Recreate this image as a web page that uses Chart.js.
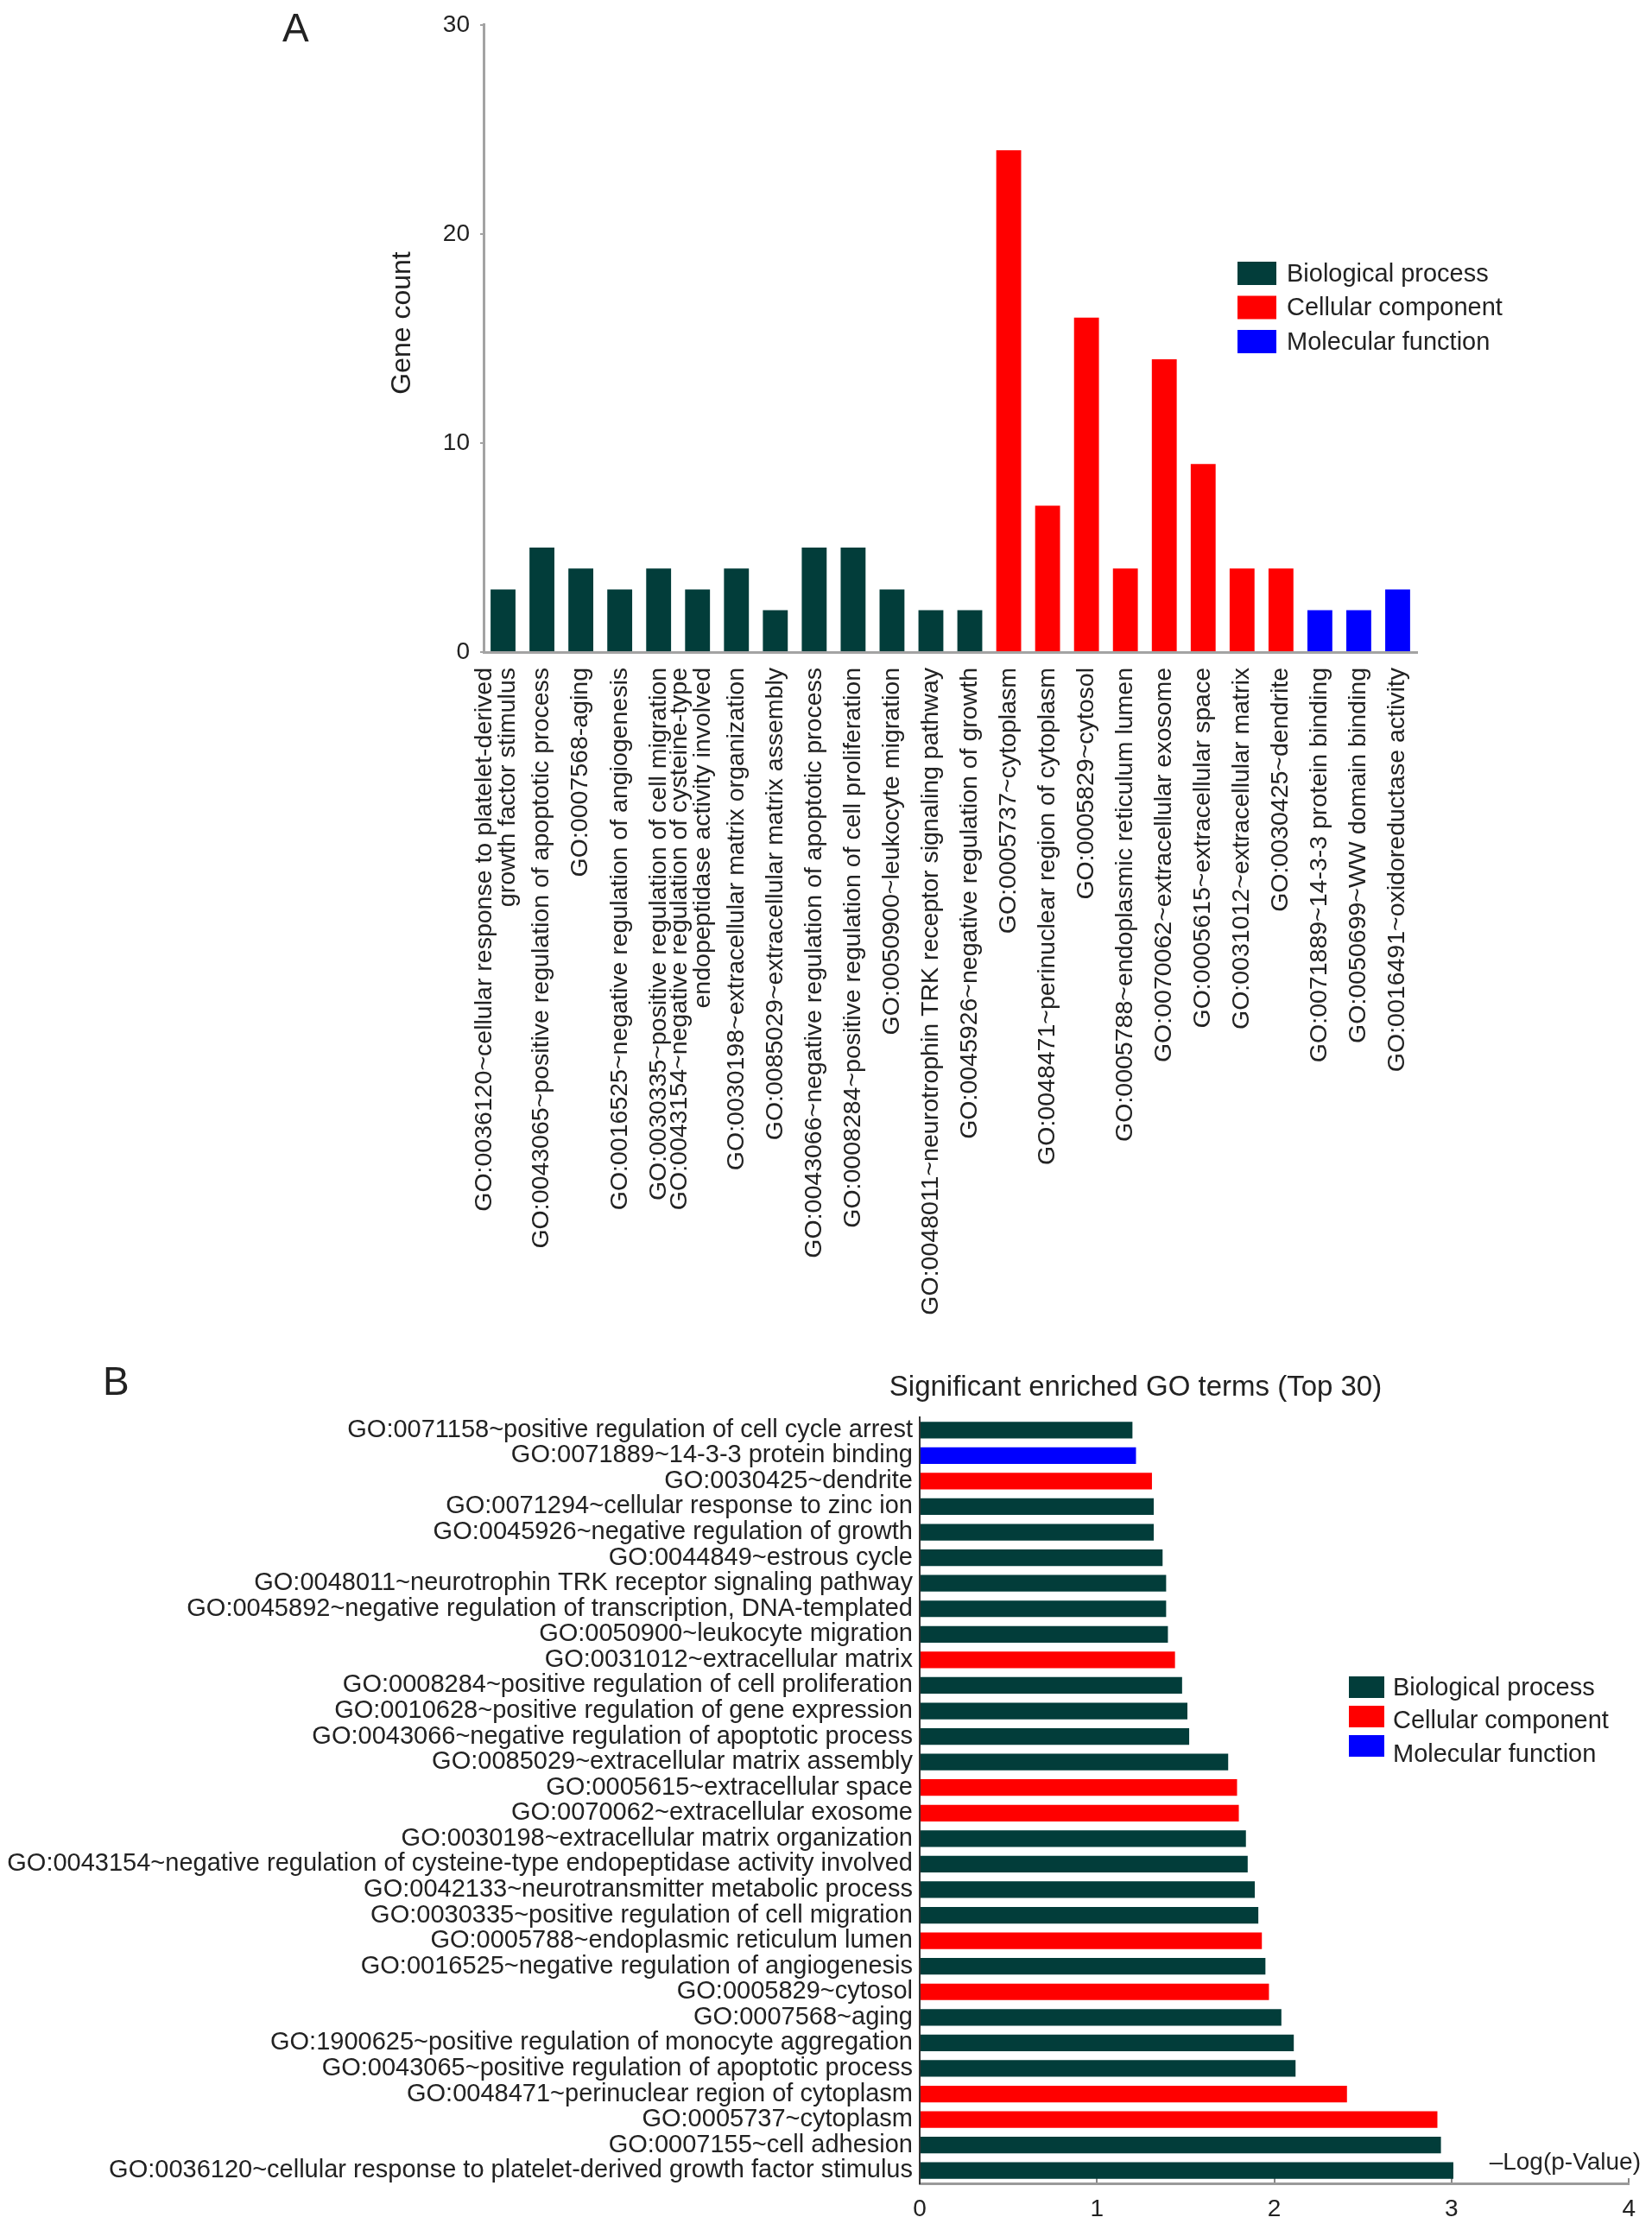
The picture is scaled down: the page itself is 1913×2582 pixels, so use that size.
<!DOCTYPE html>
<html>
<head>
<meta charset="utf-8">
<script src="https://cdn.jsdelivr.net/npm/chart.js@4.4.1/dist/chart.umd.min.js"></script>
<style>
  html, body { margin: 0; padding: 0; background: #fff; }
  canvas { display: block; }
</style>
</head>
<body>
<canvas id="chartA" width="1913" height="1545"></canvas>
<canvas id="chartB" width="1913" height="1037"></canvas>
<script>
// GO categories
const groupNames = ['Biological process', 'Cellular component', 'Molecular function'];
const groupColors = ['#023d3a', '#ff0000', '#0000ff'];

// Panel A: gene count per GO term
const termsA = [
  ['GO:0036120~cellular response to platelet-derived', 'growth factor stimulus'],
  ['GO:0043065~positive regulation of apoptotic process'],
  ['GO:0007568-aging'],
  ['GO:0016525~negative regulation of angiogenesis'],
  ['GO:0030335~positive regulation of cell migration'],
  ['GO:0043154~negative regulation of cysteine-type', 'endopeptidase activity involved'],
  ['GO:0030198~extracellular matrix organization'],
  ['GO:0085029~extracellular matrix assembly'],
  ['GO:0043066~negative regulation of apoptotic process'],
  ['GO:0008284~positive regulation of cell proliferation'],
  ['GO:0050900~leukocyte migration'],
  ['GO:0048011~neurotrophin TRK receptor signaling pathway'],
  ['GO:0045926~negative regulation of growth'],
  ['GO:0005737~cytoplasm'],
  ['GO:0048471~perinuclear region of cytoplasm'],
  ['GO:0005829~cytosol'],
  ['GO:0005788~endoplasmic reticulum lumen'],
  ['GO:0070062~extracellular exosome'],
  ['GO:0005615~extracellular space'],
  ['GO:0031012~extracellular matrix'],
  ['GO:0030425~dendrite'],
  ['GO:0071889~14-3-3 protein binding'],
  ['GO:0050699~WW domain binding'],
  ['GO:0016491~oxidoreductase activity']
];
const countA = [3, 5, 4, 3, 4, 3, 4, 2, 5, 5, 3, 2, 2, 24, 7, 16, 4, 14, 9, 4, 4, 2, 2, 3];
const groupA = [0, 0, 0, 0, 0, 0, 0, 0, 0, 0, 0, 0, 0, 1, 1, 1, 1, 1, 1, 1, 1, 2, 2, 2];
const ticksA = [0, 10, 20, 30];

// Panel B: top 30 enriched terms, -log(p)
const termsB = [
  'GO:0071158~positive regulation of cell cycle arrest',
  'GO:0071889~14-3-3 protein binding',
  'GO:0030425~dendrite',
  'GO:0071294~cellular response to zinc ion',
  'GO:0045926~negative regulation of growth',
  'GO:0044849~estrous cycle',
  'GO:0048011~neurotrophin TRK receptor signaling pathway',
  'GO:0045892~negative regulation of transcription, DNA-templated',
  'GO:0050900~leukocyte migration',
  'GO:0031012~extracellular matrix',
  'GO:0008284~positive regulation of cell proliferation',
  'GO:0010628~positive regulation of gene expression',
  'GO:0043066~negative regulation of apoptotic process',
  'GO:0085029~extracellular matrix assembly',
  'GO:0005615~extracellular space',
  'GO:0070062~extracellular exosome',
  'GO:0030198~extracellular matrix organization',
  'GO:0043154~negative regulation of cysteine-type endopeptidase activity involved',
  'GO:0042133~neurotransmitter metabolic process',
  'GO:0030335~positive regulation of cell migration',
  'GO:0005788~endoplasmic reticulum lumen',
  'GO:0016525~negative regulation of angiogenesis',
  'GO:0005829~cytosol',
  'GO:0007568~aging',
  'GO:1900625~positive regulation of monocyte aggregation',
  'GO:0043065~positive regulation of apoptotic process',
  'GO:0048471~perinuclear region of cytoplasm',
  'GO:0005737~cytoplasm',
  'GO:0007155~cell adhesion',
  'GO:0036120~cellular response to platelet-derived growth factor stimulus'
];
const logpB = [1.20, 1.22, 1.31, 1.32, 1.32, 1.37, 1.39, 1.39, 1.40, 1.44,
               1.48, 1.51, 1.52, 1.74, 1.79, 1.80, 1.84, 1.85, 1.89, 1.91,
               1.93, 1.95, 1.97, 2.04, 2.11, 2.12, 2.41, 2.92, 2.94, 3.01];
const groupB = [0, 2, 1, 0, 0, 0, 0, 0, 0, 1, 0, 0, 0, 0, 1, 1, 0, 0, 0, 0,
                1, 0, 1, 0, 0, 0, 1, 1, 0, 0];
const ticksB = [0, 1, 2, 3, 4];

const FONT = '"Liberation Sans", Arial, Helvetica, sans-serif';
Chart.defaults.font.family = FONT;
Chart.defaults.color = '#222';

const legendItems = groupNames.map((name, i) => ({ label: name, color: groupColors[i] }));

// draws panel letters, free text and the boxed legend
function decor(cfg) {
  return {
    id: 'decor',
    afterDraw(chart) {
      const ctx = chart.ctx;
      ctx.save();
      cfg.texts.forEach(t => {
        ctx.save();
        ctx.font = t.size + 'px ' + FONT;
        ctx.fillStyle = '#222';
        ctx.textAlign = t.align || 'left';
        ctx.textBaseline = t.baseline || 'alphabetic';
        ctx.translate(t.x, t.y);
        if (t.rotate) ctx.rotate(t.rotate);
        ctx.fillText(t.text, 0, 0);
        ctx.restore();
      });
      const lg = cfg.legend;
      ctx.font = lg.size + 'px ' + FONT;
      ctx.textAlign = 'left';
      ctx.textBaseline = 'middle';
      lg.items.forEach((it, i) => {
        const top = lg.y + i * lg.gap;
        ctx.fillStyle = it.color;
        ctx.fillRect(lg.x, top, lg.w, lg.h);
        ctx.fillStyle = '#222';
        ctx.fillText(it.label, lg.x + lg.w + lg.space, lg.y + lg.h / 2 + 1 + i * lg.textGap);
      });
      ctx.restore();
    }
  };
}

// two-line term labels on the x axis: second line sits on the bar, first line left of it
const splitLabels = {
  id: 'splitLabels',
  afterDraw(chart) {
    const sx = chart.scales.x;
    const ctx = chart.ctx;
    ctx.save();
    ctx.font = '28.5px ' + FONT;
    ctx.fillStyle = '#222';
    ctx.textAlign = 'right';
    ctx.textBaseline = 'middle';
    termsA.forEach((lines, i) => {
      if (lines.length < 2) return;
      const px = sx.getPixelForTick(i);
      lines.forEach((line, k) => {
        ctx.save();
        ctx.translate(px - 21 + k * 27, sx.top + 18);
        ctx.rotate(-Math.PI / 2);
        ctx.fillText(line, 0, 0);
        ctx.restore();
      });
    });
    ctx.restore();
  }
};

new Chart(document.getElementById('chartA'), {
  type: 'bar',
  data: {
    labels: termsA.map(l => l.join(' ')),
    datasets: [{
      data: countA,
      backgroundColor: groupA.map(g => groupColors[g]),
      categoryPercentage: 1,
      barPercentage: 0.64
    }]
  },
  options: {
    responsive: false,
    animation: false,
    devicePixelRatio: 1,
    layout: { padding: { left: 443, right: 272, top: 25, bottom: 0 } },
    plugins: { legend: { display: false }, tooltip: { enabled: false } },
    scales: {
      x: {
        grid: { display: false, drawTicks: false },
        border: { display: true, color: '#a3a3a3', width: 3 },
        ticks: {
          autoSkip: false, minRotation: 90, maxRotation: 90, padding: 18,
          font: { size: 28.5 }, color: '#222',
          callback: (v, i) => (termsA[i].length === 1 ? termsA[i][0] : '')
        },
        afterFit(s) { s.height = 790; }
      },
      y: {
        min: 0, max: 30,
        afterBuildTicks(s) { s.ticks = ticksA.map(v => ({ value: v })); },
        ticks: { padding: 12, font: { size: 28 }, color: '#222' },
        grid: { display: true, drawOnChartArea: false, tickLength: 4, color: '#a3a3a3', lineWidth: 2 },
        border: { color: '#a3a3a3', width: 3 },
        afterFit(s) { s.width = 117; }
      }
    }
  },
  plugins: [splitLabels, decor({
    texts: [
      { text: 'A', x: 327, y: 48, size: 46 },
      { text: 'Gene count', x: 466, y: 374, size: 32, align: 'center', baseline: 'middle', rotate: -Math.PI / 2 }
    ],
    legend: { items: legendItems, x: 1433, y: 303, w: 45, h: 27, gap: 39.5, textGap: 39.5, space: 12, size: 29 }
  })]
});

new Chart(document.getElementById('chartB'), {
  type: 'bar',
  data: {
    labels: termsB,
    datasets: [{
      data: logpB,
      backgroundColor: groupB.map(g => groupColors[g]),
      categoryPercentage: 1,
      barPercentage: 0.65
    }]
  },
  options: {
    indexAxis: 'y',
    responsive: false,
    animation: false,
    devicePixelRatio: 1,
    layout: { padding: { left: 0, right: 24, top: 96, bottom: 0 } },
    plugins: { legend: { display: false }, tooltip: { enabled: false } },
    scales: {
      x: {
        min: 0, max: 4,
        afterBuildTicks(s) { s.ticks = ticksB.map(v => ({ value: v })); },
        ticks: { padding: 19, font: { size: 28 }, color: '#222' },
        grid: { display: true, drawOnChartArea: false, tickLength: -6, color: '#888', lineWidth: 2 },
        border: { color: '#9a9a9a', width: 3 },
        afterFit(s) { s.height = 54; }
      },
      y: {
        ticks: { autoSkip: false, padding: 8, font: { size: 29 }, color: '#222' },
        grid: { display: false, drawTicks: false },
        border: { color: '#333', width: 2 },
        afterFit(s) { s.width = 1065; }
      }
    }
  },
  plugins: [decor({
    texts: [
      { text: 'B', x: 119, y: 70, size: 46 },
      { text: 'Significant enriched GO terms (Top 30)', x: 1315, y: 71, size: 33, align: 'center' },
      { text: '\u2013Log(p-Value)', x: 1900, y: 967, size: 28, align: 'right' }
    ],
    legend: { items: legendItems, x: 1562, y: 396, w: 41, h: 25, gap: 34, textGap: 38.5, space: 10, size: 29 }
  })]
});
</script>
</body>
</html>
